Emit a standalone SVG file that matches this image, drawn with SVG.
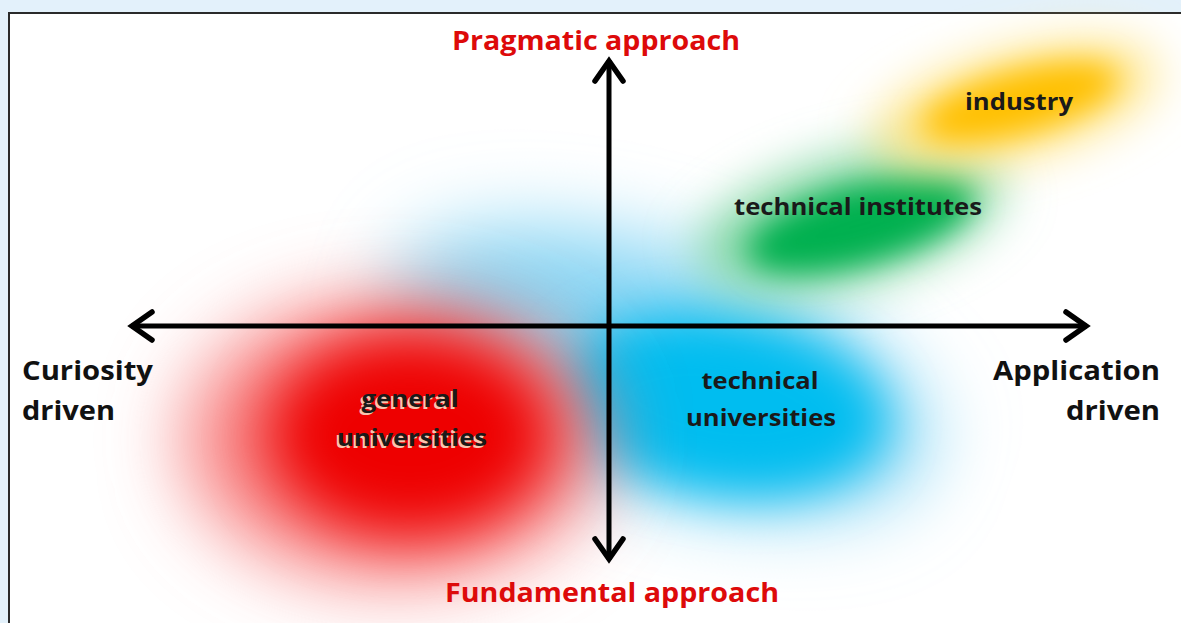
<svg xmlns="http://www.w3.org/2000/svg" width="1181" height="623" viewBox="0 0 1181 623">
<defs>
<style>
.lbl{font-family:"Open Sans","Liberation Sans",sans-serif;font-weight:bold;fill:#1a1a1a}
.axis{font-family:"Open Sans","Liberation Sans",sans-serif;font-weight:bold;fill:#111}
.red{font-family:"Open Sans","Liberation Sans",sans-serif;font-weight:bold;fill:#dd0a0a}
.shadow{font-family:"Open Sans","Liberation Sans",sans-serif;font-weight:bold;fill:#f7c6b0}
.ax{stroke:#000;stroke-width:5;fill:none}
</style>
<filter id="b40" x="-60%" y="-60%" width="220%" height="220%"><feGaussianBlur stdDeviation="40"/></filter>
<filter id="b30" x="-60%" y="-60%" width="220%" height="220%"><feGaussianBlur stdDeviation="30"/></filter>
<filter id="b25" x="-60%" y="-60%" width="220%" height="220%"><feGaussianBlur stdDeviation="25"/></filter>
<filter id="b15" x="-60%" y="-60%" width="220%" height="220%"><feGaussianBlur stdDeviation="15"/></filter>
<marker id="arr" markerUnits="userSpaceOnUse" viewBox="-28 -20 32 40" refX="0" refY="0" markerWidth="32" markerHeight="40" orient="auto-start-reverse">
<path d="M-21,-14 L-1,0 L-21,14" fill="none" stroke="#000" stroke-width="5.5" stroke-linecap="round" stroke-linejoin="miter"/>
</marker>
</defs>
<rect x="0" y="0" width="1181" height="623" fill="#e3f1fb"/>
<rect x="9" y="13" width="1180" height="620" fill="#fff" stroke="#2a2a2a" stroke-width="2"/>

<g id="blob-blue">
<ellipse cx="660" cy="370" rx="280" ry="120" transform="rotate(18 660 370)" fill="#86d5f4" filter="url(#b40)"/>
<ellipse cx="722" cy="405" rx="165" ry="88" transform="rotate(8 722 405)" fill="#00bdf0" filter="url(#b25)"/>
</g>
<g id="blob-red">
<ellipse cx="395" cy="440" rx="210" ry="140" fill="#f77a7a" filter="url(#b40)"/>
<ellipse cx="410" cy="435" rx="140" ry="100" fill="#ee0000" filter="url(#b30)"/>
</g>
<g id="blob-green">
<ellipse cx="850" cy="220" rx="155" ry="62" transform="rotate(-15 850 220)" fill="#7fd6a0" filter="url(#b25)"/>
<ellipse cx="860" cy="225" rx="115" ry="38" transform="rotate(-15 860 225)" fill="#00b050" filter="url(#b15)"/>
</g>
<g id="blob-yellow">
<ellipse cx="1015" cy="105" rx="145" ry="50" transform="rotate(-15 1015 105)" fill="#ffe27a" filter="url(#b25)"/>
<ellipse cx="1020" cy="102" rx="100" ry="30" transform="rotate(-15 1020 102)" fill="#ffc000" filter="url(#b15)"/>
</g>

<g id="connectors">
<line class="ax" x1="131" y1="326" x2="1087" y2="326" marker-start="url(#arr)" marker-end="url(#arr)"/>
<line class="ax" x1="609" y1="60" x2="609" y2="560" marker-start="url(#arr)" marker-end="url(#arr)"/>
</g>

<g id="pragmatic"><text class="red" x="596" y="50" font-size="27" text-anchor="middle" textLength="288" lengthAdjust="spacingAndGlyphs">Pragmatic approach</text></g>
<g id="fundamental"><text class="red" x="612" y="602" font-size="27" text-anchor="middle" textLength="334" lengthAdjust="spacingAndGlyphs">Fundamental approach</text></g>
<g id="curiosity">
<text class="axis" x="22" y="380" font-size="27" textLength="131" lengthAdjust="spacingAndGlyphs">Curiosity</text>
<text class="axis" x="22" y="420" font-size="27" textLength="93" lengthAdjust="spacingAndGlyphs">driven</text>
</g>
<g id="application">
<text class="axis" x="1160" y="380" font-size="27" text-anchor="end" textLength="167" lengthAdjust="spacingAndGlyphs">Application</text>
<text class="axis" x="1160" y="420" font-size="27" text-anchor="end" textLength="94" lengthAdjust="spacingAndGlyphs">driven</text>
</g>
<g id="industry"><text class="lbl" x="965" y="110" font-size="24" textLength="108" lengthAdjust="spacingAndGlyphs">industry</text></g>
<g id="technical-institutes"><text class="lbl" x="734" y="215" font-size="24" textLength="248" lengthAdjust="spacingAndGlyphs">technical institutes</text></g>
<g id="technical-universities">
<text class="lbl" x="760" y="389" font-size="24" text-anchor="middle" textLength="117" lengthAdjust="spacingAndGlyphs">technical</text>
<text class="lbl" x="761" y="426" font-size="24" text-anchor="middle" textLength="150" lengthAdjust="spacingAndGlyphs">universities</text>
</g>
<g id="general-universities">
<text class="shadow" x="408" y="409" font-size="24" text-anchor="middle" textLength="97" lengthAdjust="spacingAndGlyphs">general</text>
<text class="shadow" x="410" y="448" font-size="24" text-anchor="middle" textLength="150" lengthAdjust="spacingAndGlyphs">universities</text>
<text class="lbl" x="410" y="407" font-size="24" text-anchor="middle" textLength="97" lengthAdjust="spacingAndGlyphs">general</text>
<text class="lbl" x="412" y="446" font-size="24" text-anchor="middle" textLength="150" lengthAdjust="spacingAndGlyphs">universities</text>
</g>
</svg>
